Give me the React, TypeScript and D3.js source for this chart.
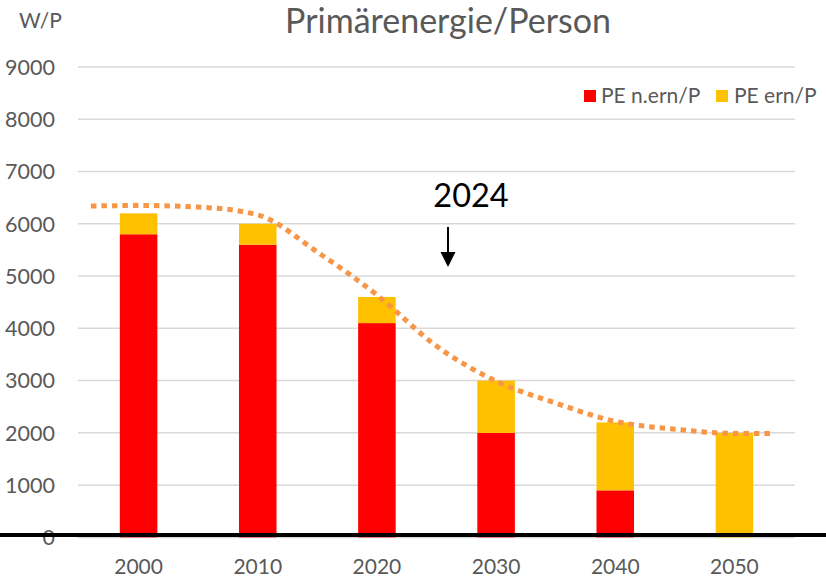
import React from "react";
import * as d3 from "d3";

const categories = ["2000", "2010", "2020", "2030", "2040", "2050"];
const nonRenewable = [5800, 5600, 4100, 2000, 900, 0];
const renewable = [400, 400, 500, 1000, 1300, 2000];
const yTicks = [0, 1000, 2000, 3000, 4000, 5000, 6000, 7000, 8000, 9000];
const trendYears = [1996, 2000, 2005, 2010, 2015, 2020, 2025, 2030, 2035, 2040, 2045, 2050, 2053.3];
const trendValues = [6340, 6350, 6320, 6170, 5460, 4640, 3660, 2990, 2570, 2220, 2070, 1990, 1990];

const W = 826;
const H = 579;
const FONT = "Lato, 'Open Sans', sans-serif";
const GREY = "#595959";
const RED = "#FF0000";
const YELLOW = "#FFC000";
const ORANGE = "#F79646";

export default function App() {
  const x = d3.scaleBand<string>().domain(categories).range([79, 794]).paddingInner(0.685).paddingOuter(0.3425);
  const y = d3.scaleLinear().domain([0, 9000]).range([537.4, 67]);
  const xYear = d3
    .scaleLinear()
    .domain([2000, 2050])
    .range([x("2000")! + x.bandwidth() / 2, x("2050")! + x.bandwidth() / 2]);

  const line = d3
    .line<number>()
    .x((_, i) => xYear(trendYears[i]))
    .y((v) => y(v))
    .curve(d3.curveMonotoneX);

  return (
    <svg width={W} height={H} style={{ position: "absolute", left: 0, top: 0, background: "#fff" }}>
      <rect width={W} height={H} fill="#fff" />
      {/* gridlines */}
      {yTicks.map((t) => (
        <line key={t} x1={78} x2={795} y1={y(t)} y2={y(t)} stroke="#D9D9D9" strokeWidth={1.5} />
      ))}
      {/* y labels */}
      {yTicks.map((t) => (
        <text key={t} x={55} y={y(t)} dy="0.36em" textAnchor="end" fontFamily={FONT} fontSize={21.5} fill={GREY}>
          {t}
        </text>
      ))}
      {/* bars */}
      {categories.map((c, i) => (
        <g key={c}>
          {nonRenewable[i] > 0 && (
            <rect x={x(c)} width={x.bandwidth()} y={y(nonRenewable[i])} height={y(0) - y(nonRenewable[i])} fill={RED} />
          )}
          <rect
            x={x(c)}
            width={x.bandwidth()}
            y={y(nonRenewable[i] + renewable[i])}
            height={y(nonRenewable[i]) - y(nonRenewable[i] + renewable[i])}
            fill={YELLOW}
          />
        </g>
      ))}
      {/* baseline */}
      <line x1={0} x2={W} y1={535} y2={535} stroke="#000" strokeWidth={4} />
      {/* x labels */}
      {categories.map((c) => (
        <text key={c} x={x(c)! + x.bandwidth() / 2} y={574} textAnchor="middle" fontFamily={FONT} fontSize={21} fill={GREY}>
          {c}
        </text>
      ))}
      {/* trend */}
      <path d={line(trendValues) || ""} fill="none" stroke={ORANGE} strokeWidth={5} strokeDasharray="5.5 5" />
      {/* title */}
      <text x={448} y={33} textAnchor="middle" fontFamily={FONT} fontSize={34} fill={GREY}>
        Primärenergie/Person
      </text>
      <text x={19} y={28} fontFamily={FONT} fontSize={21} fill={GREY}>
        W/P
      </text>
      {/* legend */}
      <rect x={584} y={90} width={12} height={12} fill={RED} />
      <text x={601} y={103} fontFamily={FONT} fontSize={21} fill={GREY}>
        PE n.ern/P
      </text>
      <rect x={716} y={90} width={12} height={12} fill={YELLOW} />
      <text x={734} y={103} fontFamily={FONT} fontSize={21} fill={GREY}>
        PE ern/P
      </text>
      {/* annotation */}
      <text x={471} y={207} textAnchor="middle" fontFamily={FONT} fontSize={32.5} fill="#000">
        2024
      </text>
      <line x1={448} x2={448} y1={227} y2={254} stroke="#000" strokeWidth={2} />
      <path d="M440.5,252 L455.5,252 L448,267 Z" fill="#000" />
    </svg>
  );
}
